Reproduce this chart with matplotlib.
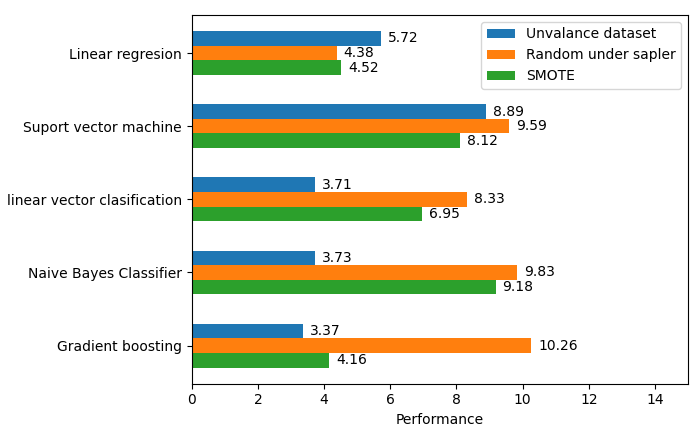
import matplotlib.pyplot as plt
import numpy as np

models = ["Linear regresion", "Suport vector machine", "linear vector clasification",
          "Naive Bayes Classifier", "Gradient boosting"]
unbalanced = [5.72, 8.89, 3.71, 3.73, 3.37]
under_sampler = [4.38, 9.59, 8.33, 9.83, 10.26]
smote = [4.52, 8.12, 6.95, 9.18, 4.16]

series = [("Unvalance dataset", unbalanced, "C0"),
          ("Random under sapler", under_sampler, "C1"),
          ("SMOTE", smote, "C2")]

fig, ax = plt.subplots(figsize=(7, 4.41), dpi=100)
fig.subplots_adjust(left=0.274, right=0.983, top=0.966, bottom=0.13)

y = np.arange(len(models))
h = 0.2
for i, (name, vals, c) in enumerate(series):
    bars = ax.barh(y + (i - 1) * h, vals, height=h, color=c, label=name)
    ax.bar_label(bars, labels=[f"{v:.2f}" for v in vals], padding=5)

ax.set_yticks(y)
ax.set_yticklabels(models)
ax.set_ylim(len(models) - 0.48, -0.52)
ax.set_xlim(0, 15)
ax.set_xticks(range(0, 15, 2))
ax.set_xlabel("Performance")
ax.legend(loc="upper right")

fig.savefig("out.png")
